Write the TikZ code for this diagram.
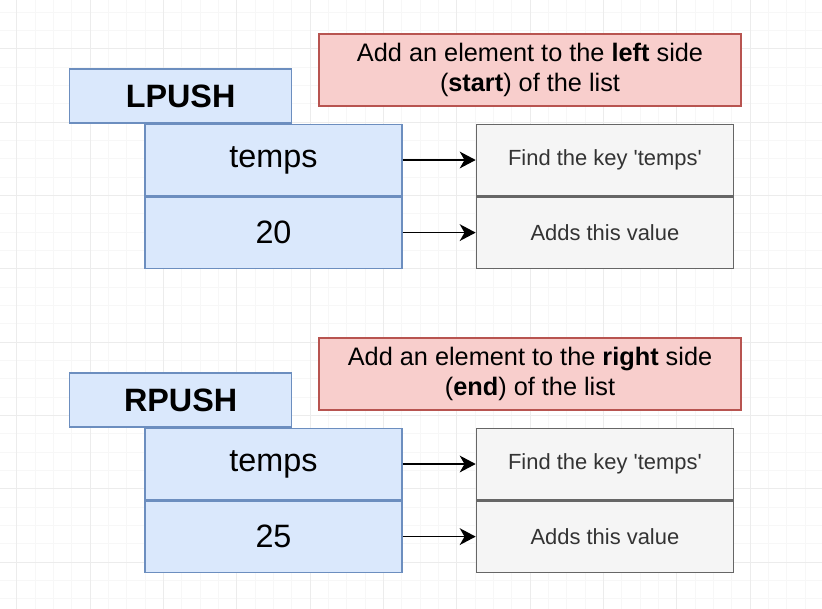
\documentclass[tikz,border=0pt]{standalone}
\usepackage{fontspec}
\setmainfont{Liberation Sans}
\usepackage{tikz}
\usetikzlibrary{positioning}
\usetikzlibrary{arrows.meta}

\definecolor{keyfill}{HTML}{DAE8FC}
\definecolor{keyline}{HTML}{6C8EBF}
\definecolor{notefill}{HTML}{F8CECC}
\definecolor{noteline}{HTML}{B85450}
\definecolor{infofill}{HTML}{F5F5F5}
\definecolor{infoline}{HTML}{666666}
\definecolor{infotext}{HTML}{333333}
\definecolor{minorgrid}{HTML}{F7F7F7}
\definecolor{majorgrid}{HTML}{ECECEC}

\begin{document}
\begin{tikzpicture}[
    cmd/.style = {draw=keyline, fill=keyfill, line width=1pt, inner sep=0pt,
        minimum width=5.55cm, minimum height=1.35cm,
        font=\fontsize{23}{27}\selectfont\bfseries},
    cell/.style = {draw=keyline, fill=keyfill, line width=1pt, inner sep=0pt,
        minimum width=6.425cm, minimum height=1.78cm,
        font=\fontsize{23}{27}\selectfont},
    info/.style = {draw=infoline, fill=infofill, line width=1pt, inner sep=0pt,
        minimum width=6.425cm, minimum height=1.78cm, text=infotext,
        font=\fontsize{15.6}{18}\selectfont},
    note/.style = {draw=noteline, fill=notefill, line width=1pt, align=center,
        minimum width=10.55cm, minimum height=1.8cm,
        font=\fontsize{18}{21}\selectfont},
    link/.style = {draw, line width=1.1pt,
        -{Stealth[length=0.4cm, width=0.42cm, inset=0.12cm]}},
    node distance=1.825cm]

    \useasboundingbox (0,0) rectangle (20.55,-15.2);
    \fill[white] (0,0) rectangle (20.55,-15.2);
    \begin{scope}
        \clip (0,0) rectangle (20.55,-15.2);
        \begin{scope}[shift={(0.4175,-1.2175)}]
            \draw[minorgrid, line width=0.5pt, step=0.45833] (-2,-16) grid (22,3);
            \draw[majorgrid, line width=0.5pt, step=1.8333] (-1.8333,-16.5) grid (22,3.6666);
        \end{scope}
    \end{scope}

    \node[cell] (key1) at (6.8375,-4.0) {temps};
    \node[cell, below=0pt of key1] (val1) {20};
    \node[info, right=of key1] (find1) {Find the key \textquotesingle temps\textquotesingle};
    \node[info, right=of val1] (adds1) {Adds this value};
    \node[cmd, above left=0pt and -3.7cm of key1.north west] (lpush) {LPUSH};
    \node[note] (note1) at (13.25,-1.75)
        {Add an element to the \textbf{left} side\\(\textbf{start}) of the list};
    \draw[link] (key1) -- (find1);
    \draw[link] (val1) -- (adds1);

    \node[cell] (key2) at (6.8375,-11.6) {temps};
    \node[cell, below=0pt of key2] (val2) {25};
    \node[info, right=of key2] (find2) {Find the key \textquotesingle temps\textquotesingle};
    \node[info, right=of val2] (adds2) {Adds this value};
    \node[cmd, above left=0pt and -3.7cm of key2.north west] (rpush) {RPUSH};
    \node[note] (note2) at (13.25,-9.35)
        {Add an element to the \textbf{right} side\\(\textbf{end}) of the list};
    \draw[link] (key2) -- (find2);
    \draw[link] (val2) -- (adds2);
\end{tikzpicture}
\end{document}
